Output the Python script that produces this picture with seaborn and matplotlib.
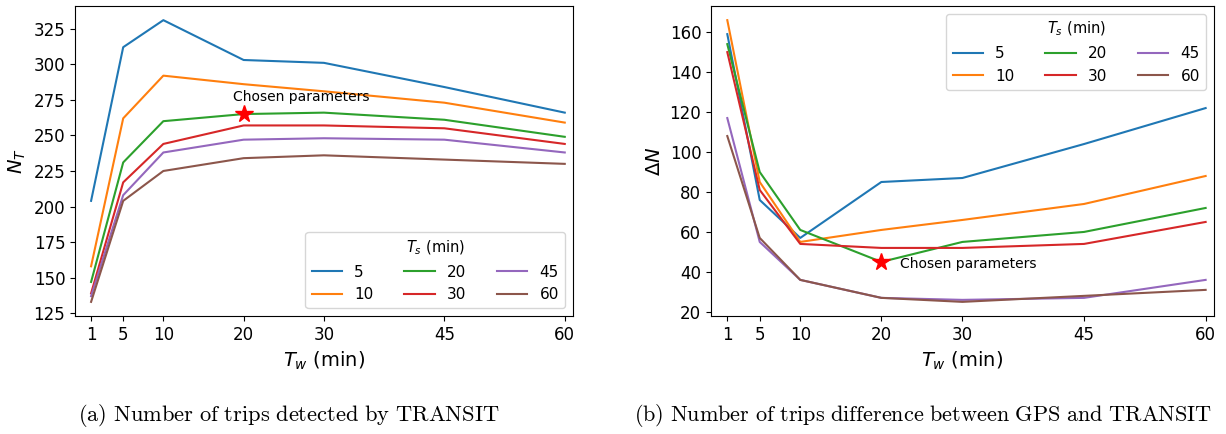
import numpy as np
import pandas as pd
import matplotlib
matplotlib.use("Agg")
import matplotlib.pyplot as plt
import seaborn as sns

# datos
tw = [1, 5, 10, 20, 30, 45, 60]
ts = [5, 10, 20, 30, 45, 60]

n_trips = {
    5:  [204, 312, 331, 303, 301, 284, 266],
    10: [158, 262, 292, 286, 281, 273, 259],
    20: [147, 231, 260, 265, 266, 261, 249],
    30: [139, 217, 244, 257, 257, 255, 244],
    45: [137, 208, 238, 247, 248, 247, 238],
    60: [133, 204, 225, 234, 236, 233, 230],
}

delta_n = {
    5:  [159, 76, 57, 85, 87, 104, 122],
    10: [166, 85, 55, 61, 66, 74, 88],
    20: [154, 90, 61, 45, 55, 60, 72],
    30: [150, 81, 54, 52, 52, 54, 65],
    45: [117, 55, 36, 27, 26, 27, 36],
    60: [108, 57, 36, 27, 25, 28, 31],
}

elegido_tw = 20
elegido_ts = 20


def a_largo(valores, nombre):
    filas = []
    for t in ts:
        for x, v in zip(tw, valores[t]):
            filas.append({"Tw": x, "Ts": t, nombre: v})
    return pd.DataFrame(filas)


df_a = a_largo(n_trips, "NT")
df_b = a_largo(delta_n, "dN")

plt.rcParams["mathtext.fontset"] = "dejavusans"
colores = sns.color_palette("tab10", len(ts))

fig = plt.figure(figsize=(12.26, 4.34), dpi=100)
ax1 = fig.add_axes([0.0612, 0.272, 0.406, 0.714])
ax2 = fig.add_axes([0.580, 0.272, 0.410, 0.714])

for ax, df, col, etiqueta, pos_leg in [
        (ax1, df_a, "NT", r"$N_T$", "lower right"),
        (ax2, df_b, "dN", r"$\Delta N$", "upper right")]:
    sns.lineplot(data=df, x="Tw", y=col, hue="Ts", palette=colores,
                 ax=ax, linewidth=1.5)
    ax.set_xticks(tw)
    ax.set_xlim(-1, 61)
    ax.tick_params(labelsize=12)
    ax.set_xlabel(r"$T_w$ (min)", fontsize=14)
    ax.set_ylabel(etiqueta, fontsize=14)
    ax.legend(title=r"$T_s$ (min)", ncol=3, loc=pos_leg, fontsize=11,
              title_fontsize=10.5)

# punto elegido
y_a = n_trips[elegido_ts][tw.index(elegido_tw)]
y_b = delta_n[elegido_ts][tw.index(elegido_tw)]
ax1.plot(elegido_tw, y_a, marker="*", color="red", markersize=13, zorder=5)
ax1.text(18.7, 277, "Chosen parameters", fontsize=10, va="center")
ax2.plot(elegido_tw, y_b, marker="*", color="red", markersize=13, zorder=5)
ax2.text(22.3, 44, "Chosen parameters", fontsize=10, va="center")

# subtitulos estilo latex
fig.text(0.064, 0.042, r"$\mathrm{(a)\ Number\ of\ trips\ detected\ by\ TRANSIT}$",
         fontsize=16.2, math_fontfamily="cm", va="center")
fig.text(0.517, 0.042,
         r"$\mathrm{(b)\ Number\ of\ trips\ difference\ between\ GPS\ and\ TRANSIT}$",
         fontsize=16.0, math_fontfamily="cm", va="center")

fig.savefig("out.png", dpi=100)
